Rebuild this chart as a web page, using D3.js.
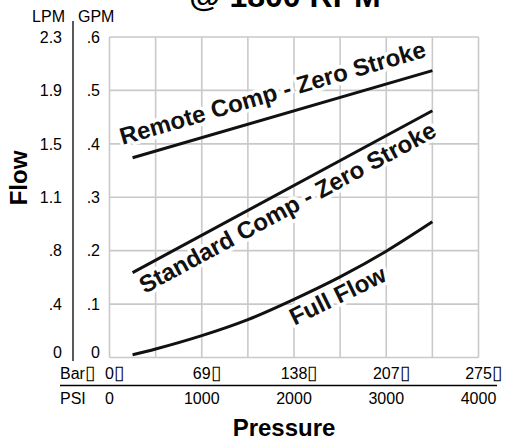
<!DOCTYPE html>
<html>
<head>
<meta charset="utf-8">
<script src="https://cdn.jsdelivr.net/npm/d3@7/dist/d3.min.js"></script>
<style>
  html, body { margin: 0; padding: 0; background: #fff; }
  svg { display: block; font-family: "Liberation Sans", Arial, Helvetica, sans-serif; }
</style>
</head>
<body>
<svg id="chart" width="507" height="441"></svg>
<script>
// ---- data ----
const title = "@ 1800 RPM";
const psiTicks = [0, 1000, 2000, 3000, 4000];
const barTickLabels = ["0", "69", "138", "207", "275"];
const gpmTicks = [0.6, 0.5, 0.4, 0.3, 0.2, 0.1, 0];
const gpmTickLabels = [".6", ".5", ".4", ".3", ".2", ".1", "0"];
const lpmTickLabels = ["2.3", "1.9", "1.5", "1.1", ".8", ".4", "0"];

const compPressure = [250, 3500];
const remoteCompFlow = [0.374, 0.537];
const standardCompFlow = [0.159, 0.462];

const fullFlowPressure = [250, 500, 1000, 1500, 2000, 2500, 3000, 3500];
const fullFlowFlow = [0.005, 0.016, 0.041, 0.071, 0.109, 0.151, 0.199, 0.254];

const seriesNames = ["Remote Comp - Zero Stroke", "Standard Comp - Zero Stroke", "Full Flow"];

// ---- layout ----
const svg = d3.select("#chart");
const x = d3.scaleLinear().domain([0, 4000]).range([109.5, 478.5]);
const y = d3.scaleLinear().domain([0, 0.6]).range([357.5, 37]);
const gridColor = "#c9c9c9";

// title (cut off at top, as in the original)
svg.append("text").attr("x", 285).attr("y", 7).attr("text-anchor", "middle")
  .attr("font-size", 32).attr("font-weight", "bold").text(title);

// grid
const g = svg.append("g");
g.selectAll("line.v").data(d3.range(0, 4001, 500)).join("line")
  .attr("x1", d => x(d)).attr("x2", d => x(d)).attr("y1", y(0.6)).attr("y2", y(0))
  .attr("stroke", gridColor).attr("stroke-width", 1.6);
g.selectAll("line.h").data(gpmTicks).join("line")
  .attr("y1", d => y(d)).attr("y2", d => y(d)).attr("x1", x(0)).attr("x2", x(4000))
  .attr("stroke", gridColor).attr("stroke-width", 1.6);

// left axis labels
svg.append("text").attr("x", 65).attr("y", 21.5).attr("text-anchor", "end").attr("font-size", 16).text("LPM");
svg.append("text").attr("x", 78).attr("y", 21.5).attr("text-anchor", "start").attr("font-size", 16).text("GPM");
svg.append("line").attr("x1", 73).attr("x2", 73).attr("y1", 21).attr("y2", 361)
  .attr("stroke", "#000").attr("stroke-width", 1.3);
const ty = d => d === 0 ? y(d) : y(d) + 5.7;
svg.append("g").selectAll("text").data(gpmTicks).join("text")
  .attr("x", 62).attr("y", ty).attr("text-anchor", "end").attr("font-size", 16)
  .text((d, i) => lpmTickLabels[i]);
svg.append("g").selectAll("text").data(gpmTicks).join("text")
  .attr("x", 100).attr("y", ty).attr("text-anchor", "end").attr("font-size", 16)
  .text((d, i) => gpmTickLabels[i]);

svg.append("text").attr("transform", "translate(27,178) rotate(-90)").attr("text-anchor", "middle")
  .attr("font-size", 24).attr("font-weight", "bold").text("Flow");

// bottom axis
const barHead = svg.append("text").attr("x", 60).attr("y", 379).attr("font-size", 16);
barHead.append("tspan").text("Bar");
barHead.append("tspan").attr("font-size", 19).text("\u25AF");
svg.append("line").attr("x1", 60).attr("x2", 497).attr("y1", 385.5).attr("y2", 385.5)
  .attr("stroke", "#000").attr("stroke-width", 1.3);
svg.append("text").attr("x", 60).attr("y", 404).attr("font-size", 16).text("PSI");
const barG = svg.append("g");
psiTicks.forEach((p, i) => {
  const t = barG.append("text").attr("y", 379).attr("font-size", 16);
  const num = t.append("tspan").text(barTickLabels[i]);
  const w = num.node().getComputedTextLength();
  t.append("tspan").attr("font-size", 19).text("\u25AF");
  t.attr("x", x(p) - w / 2);
});
svg.append("g").selectAll("text").data(psiTicks).join("text")
  .attr("x", d => x(d)).attr("y", 404).attr("text-anchor", "middle").attr("font-size", 16)
  .text(d => d);
svg.append("text").attr("x", 284).attr("y", 436).attr("text-anchor", "middle")
  .attr("font-size", 24).attr("font-weight", "bold").text("Pressure");

// curves
const line = d3.line().x(d => x(d[0])).y(d => y(d[1]));
const remote = compPressure.map((p, i) => [p, remoteCompFlow[i]]);
const standard = compPressure.map((p, i) => [p, standardCompFlow[i]]);
const full = fullFlowPressure.map((p, i) => [p, fullFlowFlow[i]]);
const curves = svg.append("g");
curves.append("path").attr("d", line(remote));
curves.append("path").attr("d", line(standard));
curves.append("path").attr("d", line.curve(d3.curveMonotoneX)(full));
curves.selectAll("path").attr("fill", "none").attr("stroke", "#111").attr("stroke-width", 3);

// labels rotated along the curves
function placeLabel(text, pA, pB, along, normal) {
  const ax = x(pA[0]), ay = y(pA[1]), bx = x(pB[0]), by = y(pB[1]);
  const len = Math.hypot(bx - ax, by - ay);
  const ux = (bx - ax) / len, uy = (by - ay) / len;
  const nx = uy, ny = -ux;
  const ox = ax + ux * along + nx * normal, oy = ay + uy * along + ny * normal;
  const ang = Math.atan2(uy, ux) * 180 / Math.PI;
  svg.append("text")
    .attr("transform", `translate(${ox},${oy}) rotate(${ang})`)
    .attr("font-size", 24).attr("font-weight", "bold")
    .attr("fill", "#111").attr("stroke", "#fff").attr("stroke-width", 7)
    .attr("stroke-linejoin", "round").attr("paint-order", "stroke")
    .text(text);
}
placeLabel(seriesNames[0], remote[0], remote[1], -6, 15);
placeLabel(seriesNames[1], standard[0], standard[1], 0.5, -24.5);
placeLabel(seriesNames[2], full[4], full[5], -11, -24);
</script>
</body>
</html>
